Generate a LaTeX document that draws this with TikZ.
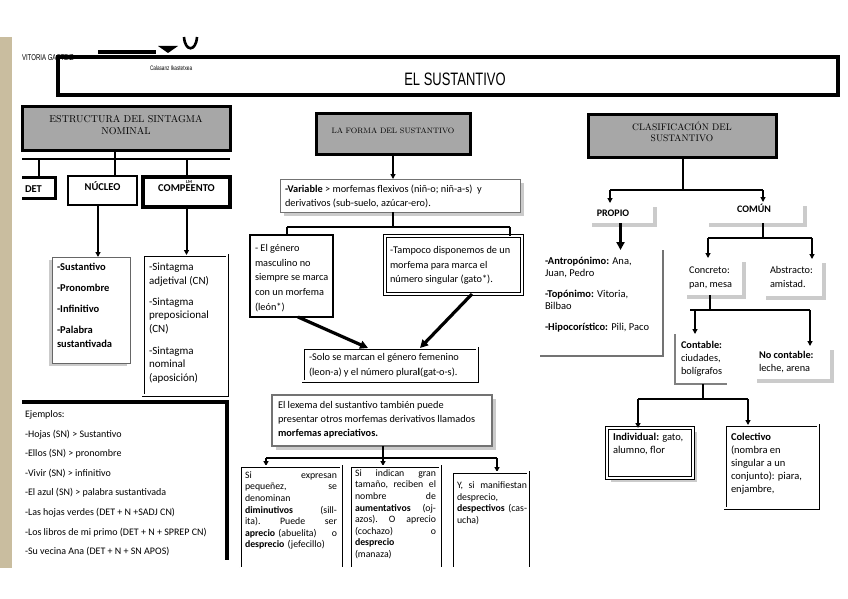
\documentclass[tikz,border=0pt]{standalone}
\usepackage{fontspec}
\usepackage{graphicx}
\newfontfamily\bodyf{Carlito}
\newfontfamily\ttlf[FakeStretch=0.72]{Liberation Sans}
\newcommand\fsz[2]{\fontsize{#1}{#2}\selectfont}
\newcommand\T{\rule{0pt}{0.72em}}
\usetikzlibrary{arrows.meta,shadows,fit}
\definecolor{tanc}{HTML}{C9BD9F}
\definecolor{hdrg}{HTML}{A7A7A7}
\begin{document}
\begin{tikzpicture}[x=1pt,y=-1pt,
 every node/.style={inner sep=0pt,outer sep=0pt},
 txt/.style={anchor=north west,align=left,font=\bodyf\fsz{10.3}{14}},
 hdr/.style={draw=black,line width=3pt,fill=hdrg,align=center},
 bx/.style={draw=black,line width=1pt,fill=white},
 dbl/.style={draw=black,double=white,double distance=1.4pt,line width=0.8pt},
 con/.style={line width=2pt,draw=black},
 arr/.style={con,-{Triangle[length=5pt,width=5pt]}},
 arrT/.style={line width=3.2pt,-{Triangle[length=8pt,width=8pt]}},
 sh/.style={drop shadow={shadow xshift=4pt,shadow yshift=-4pt,fill=black!40,opacity=0.5}},
 shl/.style={drop shadow={shadow xshift=-3pt,shadow yshift=-3pt,fill=black!40,opacity=0.5}},
]
\useasboundingbox (0,0) rectangle (848,599);
\fill[white] (0,0) rectangle (848,599);
\fill[tanc] (0,37) rectangle (12,568);

% logo fragments and heading
\fill (98,50.5) rectangle (156,54);
\fill (158,46) -- (178,46) -- (168,53) -- cycle;
\draw[line width=2.6pt] (184,37) .. controls (185,52) and (196,52) .. (197,37);
\node[font=\ttlf\fsz{8.4}{9},anchor=west] (vit) at (22,58) {VITORIA GASTEIZ};
\node[font=\ttlf\fsz{6.5}{7},anchor=west] (cal) at (150,68) {Calasanz Ikastetxea};
\node[draw,line width=3.5pt,fit={(58,57) (838,95)}] (title) {};
\node[font=\ttlf\fsz{18}{18}] (titleT) at (455,79) {EL SUSTANTIVO};

% ---------------- left column
\node[hdr,fit={(22,107) (230,150)},font=\fsz{10}{11.5}] (hL) {ESTRUCTURA DEL SINTAGMA\\NOMINAL};
\coordinate (jL) at (115,159);
\coordinate (jL1) at (22,159);
\coordinate (jL2) at (230,159);
\node[fit={(22,177) (55,198)}] (det) {};
\node[draw,line width=2.5pt,fill=white,fit={(68,176) (137,205)},font=\bodyf\bfseries\fsz{10.5}{12}] (nuc) {NÚCLEO};
\node[draw,line width=4pt,fill=white,fit={(143,177) (230,207)},font=\bodyf\bfseries\fsz{10.5}{12}] (comp) {COMP\rlap{\raisebox{8.2pt}{\hspace{0.6pt}\fsz{4.5}{5}LM}}EENTO};
\draw[con] (hL.south -| jL) -- (jL);
\draw[con] (jL1) -- (jL2);
\draw[con] (det.north |- jL) -- (det.north);
\draw[con] (jL) -- (jL |- nuc.north);
\draw[con] (comp.north |- jL) -- (comp.north);
\draw[line width=3pt] (det.north west) -- (det.north east) -- (det.south east) -- (det.south west);
\node[font=\bodyf\bfseries\fsz{10.5}{12},anchor=west] (detT) at (25,189) {DET};

\node[bx,draw=black!60,shl,fit={(52,257) (130,363)}] (sus) {};
\node[fit={(143,255) (227,395)},dbl,fill=white] (sint) {};
\draw[arr] ([xshift=-4.5pt]nuc.south) -- ([xshift=-4.5pt]nuc.south |- sus.north);
\draw[arr] (comp.south) -- (comp.south |- sint.north);
\node[txt,font=\bodyf\bfseries\fsz{10.5}{13.5}] (susT) at (57,263)
 {\T-Sustantivo\\[7.5pt]-Pronombre\\[7.5pt]-Infinitivo\\[7.5pt]-Palabra\\sustantivada};
\node[txt,font=\bodyf\fsz{11}{13.5}] (sintT) at (149,262.7)
 {\T-Sintagma\\adjetival (CN)\\[7.5pt]-Sintagma\\preposicional\\(CN)\\[8.5pt]-Sintagma\\nominal\\(aposición)};

\node[fit={(22,402) (227,567)}] (ej) {};
\draw[line width=4pt] (ej.north west) -- (ej.north east) -- ([yshift=7pt]ej.south east);
\node[txt,font=\bodyf\fsz{10}{19.6}] (ejT) at (25,410.2)
 {\T Ejemplos:\\-Hojas (SN) > Sustantivo\\-Ellos (SN) > pronombre\\-Vivir (SN) > infinitivo\\-El azul (SN) > palabra sustantivada\\-Las hojas verdes (DET + N +SADJ CN)\\-Los libros de mi primo (DET + N + SPREP CN)\\-Su vecina Ana (DET + N + SN APOS)};

% ---------------- middle column
\node[hdr,fit={(316,114) (470,154)},font=\fsz{7.8}{9}] (hM) {LA FORMA DEL SUSTANTIVO};
\node[bx,draw=black!55,sh,fit={(280,179) (520,212)}] (var) {};
\draw[arr] (hM.south) -- (hM.south |- var.north);
\node[txt] (varT) at (285,185.1)
 {\T\textbf{-Variable} > morfemas flexivos (niñ-o; niñ-a-s)\ \ y\\derivativos (sub-suelo, azúcar-ero).};

\node[bx,line width=1.5pt,fit={(250,235) (333,317)}] (gen) {};
\node[dbl,line width=1.1pt,double distance=1.6pt,fill=white,fit={(385,236) (522,294)}] (tam) {};
\coordinate (jM) at (393,227);
\coordinate (jM1) at (287,227);
\coordinate (jM2) at (510,227);
\draw[con] (var.south -| jM) -- (jM);
\draw[con] (jM1) -- (jM2);
\draw[con] (jM1) -- (jM1 |- gen.north);
\draw[con] (jM2) -- (jM2 |- tam.north);
\node[txt,font=\bodyf\fsz{10.3}{14.7}] (genT) at (255,244.1)
 {\T- El género\\masculino no\\siempre se marca\\con un morfema\\(león*)};
\node[txt,font=\bodyf\fsz{10.3}{14.5}] (tamT) at (390,246.1)
 {\T-Tampoco disponemos de un\\morfema para marca el\\número singular (gato*).};

\node[dbl,fill=white,fit={(303,348) (477,381)}] (solo) {};
\draw[arrT] ([xshift=6.5pt]gen.south) -- ([xshift=-22pt]solo.north);
\draw[arrT] ([xshift=18.5pt]tam.south) -- ([xshift=30pt]solo.north);
\node[txt,font=\bodyf\fsz{10.3}{14.5}] (soloT) at (309,353.1)
 {\T-Solo se marcan el género femenino\\(leon-a) y el número plura\textbf{l}(gat-o-s).};

\node[draw=black!55,line width=2.5pt,fill=white,sh,fit={(272,395) (492,446)}] (lex) {};
\node[txt,font=\bodyf\fsz{10.3}{14}] (lexT) at (278,401.1)
 {\T El lexema del sustantivo también puede\\presentar otros morfemas derivativos llamados\\\textbf{morfemas apreciativos.}};

\node[fit={(240,466) (341,567)}] (bA) {};
\node[fit={(350,466) (440,567)}] (bB) {};
\node[fit={(452,472) (528,567)}] (bC) {};
\coordinate (jB) at (383,458);
\coordinate (jB1) at (266,458);
\coordinate (jB3) at (497,458);
\draw[con] (lex.south -| jB) -- (jB);
\draw[con,line width=1.6pt] (jB1) -- (jB3);
\draw[arr,line width=1.6pt] (jB1) -- (jB1 |- bA.north);
\draw[arr,line width=1.6pt] (jB) -- (jB |- bB.north);
\draw[arr,line width=1.6pt] (jB3) -- (jB3 |- bC.north);
\draw[dbl] (bA.south west) -- (bA.north west) -- (bA.north east) -- (bA.south east);
\draw[dbl] (bB.south west) -- (bB.north west) -- (bB.north east) -- (bB.south east);
\draw[dbl] (bC.south west) -- (bC.north west) -- (bC.north east) -- (bC.south east);
\node[txt,text width=92pt,font=\bodyf\fsz{9.8}{11.6}] (bAT) at (245,471.3)
 {\T Si\hfill expresan\\pequeñez,\hfill se\\denominan\\\textbf{diminutivos}\hfill (sill-\\ita).\hfill Puede\hfill ser\\\textbf{aprecio} (abuelita)\hfill o\\\textbf{desprecio} (jefecillo)};
\node[txt,text width=81pt,font=\bodyf\fsz{9.8}{11.6}] (bBT) at (355,469.3)
 {\T Si\hfill indican\hfill gran\\tamaño,\hfill reciben\hfill el\\nombre\hfill de\\\textbf{aumentativos}\hfill (oj-\\azos).\hfill O\hfill aprecio\\(cochazo)\hfill o\\\textbf{desprecio}\\(manaza)};
\node[txt,text width=70pt,font=\bodyf\fsz{9.8}{11.8}] (bCT) at (457,481.3)
 {\T Y,\hfill si\hfill manifiestan\\desprecio,\\\textbf{despectivos}\hfill (cas-\\ucha)};

% ---------------- right column
\node[hdr,fit={(588,115) (776,157)},font=\fsz{9.5}{11}] (hR) {CLASIFICACIÓN DEL\\SUSTANTIVO};
\coordinate (jR) at (683,190);
\coordinate (jR1) at (610,190);
\coordinate (jR2) at (763,190);
\node[fill=white,sh,fit={(588,203) (653,223)}] (prop) {};
\node[fill=white,sh,fit={(705,202) (803,223)},font=\bodyf\bfseries\fsz{10}{12}] (com) {COMÚN};
\node[font=\bodyf\bfseries\fsz{10}{12}] (propT) at (613,213) {PROPIO};
\draw[con] (hR.south -| jR) -- (jR);
\draw[con] (jR1) -- (jR2);
\draw[arr] (jR1) -- (jR1 |- prop.north);
\draw[arr] (jR2) -- (jR2 |- com.north);

\node[fit={(540,250) (663,356)}] (propL) {};
\draw[black!55,line width=1.5pt] (propL.north east) -- (propL.south east) -- (propL.south west);
\draw[arrT,line width=2.8pt] (prop.south) -- (prop.south |- propL.north);
\node[txt,font=\bodyf\fsz{10.5}{12}] (propLT) at (545,257)
 {\T\textbf{-Antropónimo:} Ana,\\Juan, Pedro\\[9pt]\textbf{-Topónimo:} Vitoria,\\Bilbao\\[9pt]\textbf{-Hipocorístico:} Pili, Paco};

\node[fill=white,sh,fit={(683,258) (742,295)}] (conc) {};
\node[fill=white,sh,fit={(762,259) (822,296)}] (abst) {};
\coordinate (jC) at (763,238);
\coordinate (jC1) at (708,238);
\coordinate (jC2) at (812,238);
\draw[con] (com.south -| jC) -- (jC);
\draw[con] (jC1) -- (jC2);
\draw[arr] (jC1) -- (jC1 |- conc.north);
\draw[arr] (jC2) -- (jC2 |- abst.north);
\node[txt,font=\bodyf\fsz{10.3}{14}] (concT) at (689,266.1) {\T Concreto:\\pan, mesa};
\node[txt,font=\bodyf\fsz{10.3}{14}] (abstT) at (770,266.1) {\T Abstracto:\\amistad.};

\node[fill=white,fit={(675,334) (727,384)}] (cont) {};
\draw[black!50,line width=2pt] (cont.north west) -- (cont.south west) -- (cont.south east);
\node[fill=white,sh,fit={(753,346) (830,379)}] (ncont) {};
\coordinate (jK) at (710,310);
\coordinate (jK1) at (695,310);
\coordinate (jK2) at (810,310);
\draw[con] (conc.south -| jK) -- (jK);
\draw[con] ([xshift=-5pt]jK1) -- (jK2);
\draw[arr] (jK1) -- (jK1 |- cont.north);
\draw[arr] (jK2) -- (jK2 |- ncont.north);
\node[txt,font=\bodyf\fsz{10.3}{13}] (contT) at (681,341.1) {\T\textbf{Contable:}\\ciudades,\\bolígrafos};
\node[txt,font=\bodyf\fsz{10.3}{13}] (ncontT) at (759,351.1) {\T\textbf{No contable:}\\leche, arena};

\node[dbl,line width=1.1pt,double distance=1.5pt,fill=white,sh,fit={(607,428) (693,478)}] (indiv) {};
\node[dbl,fill=white,fit={(725,425) (818,508)}] (colec) {};
\coordinate (jI) at (703,399);
\coordinate (jI1) at (638,399);
\coordinate (jI2) at (748,399);
\draw[con] (cont.south -| jI) -- (jI);
\draw[con] (jI1) -- (jI2);
\draw[arr] (jI1) -- (jI1 |- indiv.north);
\draw[arr] (jI2) -- (jI2 |- colec.north);
\node[txt,font=\bodyf\fsz{10.5}{12.5}] (indivT) at (613,433) {\T\textbf{Individual:} gato,\\alumno, flor};
\node[txt,font=\bodyf\fsz{10.5}{13}] (colecT) at (731,433)
 {\T\textbf{Colectivo}\\(nombra en\\singular a un\\conjunto): piara,\\enjambre,};
\end{tikzpicture}
\end{document}
